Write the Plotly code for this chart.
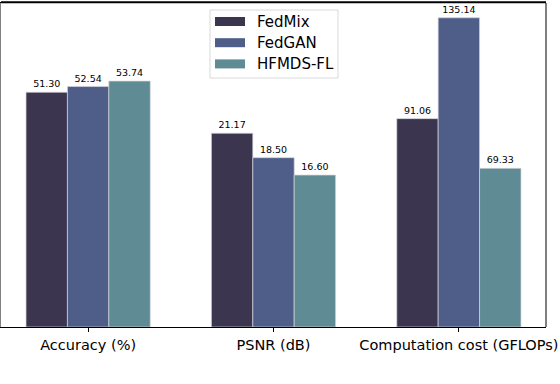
import plotly.graph_objects as go

# data
categories = ["Accuracy (%)", "PSNR (dB)", "Computation cost (GFLOPs)"]
series_names = ["FedMix", "FedGAN", "HFMDS-FL"]
fedmix = [51.30, 21.17, 91.06]
fedgan = [52.54, 18.50, 135.14]
hfmds_fl = [53.74, 16.60, 69.33]
# each metric is drawn on its own scale (bars share one hidden y axis)
metric_scale = [1.0, 2.0, 0.5]

colours = ["#3b3550", "#4e5e89", "#5e8b94"]

W, H = 560, 384
L, R, T, B = 1, 546, 3, 327  # plot area in pixels


def px_x(p):
    return (p - L) / (R - L)


def px_y(p):
    return (B - p) / (B - T)


fig = go.Figure()
for name, vals, col in zip(series_names, [fedmix, fedgan, hfmds_fl], colours):
    fig.add_trace(go.Bar(
        x=categories,
        y=[v * s for v, s in zip(vals, metric_scale)],
        name=name,
        marker=dict(color=col, line=dict(color="#d4d4d8", width=0.7)),
        text=[f"{v:.2f}" for v in vals],
        textposition="outside",
        constraintext="none",
        cliponaxis=False,
        textfont=dict(family="DejaVu Sans", size=9.5, color="black"),
        showlegend=False,
    ))

# legend drawn by hand to get the wide matplotlib-style patches
shapes = [dict(type="rect", xref="paper", yref="paper",
               x0=px_x(210), x1=px_x(338), y0=px_y(78), y1=px_y(10),
               line=dict(color="#d9d9d9", width=1), fillcolor="rgba(255,255,255,0.8)")]
annotations = []
for i, (name, col) in enumerate(zip(series_names, colours)):
    cy = 21.5 + i * 21.2
    shapes.append(dict(type="rect", xref="paper", yref="paper",
                       x0=px_x(215), x1=px_x(245), y0=px_y(cy + 4.5), y1=px_y(cy - 4.5),
                       line=dict(width=0), fillcolor=col))
    annotations.append(dict(xref="paper", yref="paper", x=px_x(255), y=px_y(cy),
                            xanchor="left", yanchor="middle", text=name, showarrow=False,
                            font=dict(family="DejaVu Sans", size=15, color="black")))

# right and top spines
shapes.append(dict(type="line", xref="paper", yref="paper", x0=1, x1=1, y0=0, y1=1,
                   line=dict(color="black", width=1)))
shapes.append(dict(type="rect", xref="paper", yref="paper",
                   x0=px_x(1), x1=1, y0=px_y(3.2), y1=px_y(1.2),
                   line=dict(width=0), fillcolor="black"))

# figure caption, mostly cut off at the bottom edge of the crop
annotations.append(dict(xref="paper", yref="paper", x=px_x(-40), y=px_y(382),
                        xanchor="left", yanchor="top", showarrow=False,
                        text="Fig. 2: Comparison of FedMix, FedGAN and HFMDS-FL",
                        font=dict(family="Liberation Serif", size=28, color="black")))

fig.update_layout(
    width=W, height=H,
    margin=dict(l=L, r=W - R, t=T, b=H - B, pad=0, autoexpand=False),
    barmode="group", bargap=0.33, bargroupgap=0,
    plot_bgcolor="white", paper_bgcolor="white",
    shapes=shapes, annotations=annotations,
    showlegend=False,
)
fig.update_xaxes(
    type="category", range=[-0.47, 2.47], automargin=False,
    showline=True, linecolor="black", linewidth=1.2, mirror=True,
    ticks="outside", ticklen=4, tickcolor="black", tickwidth=1,
    ticklabeloverflow="allow",
    tickfont=dict(family="DejaVu Sans", size=14.5, color="black"),
    showgrid=False,
)
fig.update_yaxes(
    range=[0, 70.8], automargin=False,
    showline=True, linecolor="#808080", linewidth=2,
    showticklabels=False, ticks="", showgrid=False, zeroline=False,
)

# the page's default 8px body margin would shift the whole figure
fig.write_html("out.html", config={"displayModeBar": False},
               post_script="document.body.style.margin='0';")
